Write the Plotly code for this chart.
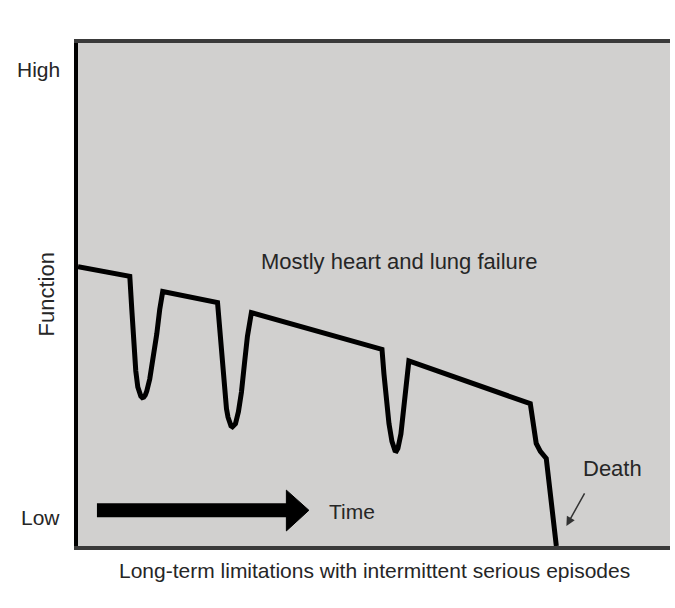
import plotly.graph_objects as go

# Functional decline trajectory (time 0-100, function 0-100)
time = [0, 8.75,
        9.09, 9.43, 9.76, 10.10, 10.35, 10.61, 10.86, 11.11, 11.37, 11.62, 12.12, 12.63, 13.30, 13.80, 14.31,
        23.57,
        23.91, 24.24, 24.58, 25.08, 25.34, 25.59, 25.84, 26.09, 26.35, 26.60, 27.10, 27.61, 28.11, 28.62, 29.29,
        51.35,
        51.68, 52.02, 52.53, 53.03, 53.28, 53.54, 53.79, 54.04, 54.55, 55.05, 55.56, 55.89,
        76.4, 76.9, 77.4, 78.1, 79.1, 80.8]
function = [55.5, 53.6,
            47.0, 40.1, 34.8, 31.6, 30.5, 29.8, 29.5, 29.6, 30.0, 30.8, 33.2, 36.6, 42.1, 47.0, 50.6,
            48.4,
            43.1, 37.2, 32.2, 27.3, 25.6, 24.5, 23.9, 23.7, 23.9, 24.3, 26.7, 30.6, 36.2, 41.7, 46.4,
            39.1,
            34.2, 29.2, 24.3, 20.8, 19.6, 19.0, 18.9, 19.4, 22.3, 27.3, 32.2, 36.8,
            28.3, 23.3, 20.4, 18.8, 17.4, 0]

# "Time" arrow: shaft and head
arrow_x = [3.2, 35.5]
arrow_y = [7.1, 7.1]
head_x = [35.2, 39.0, 35.2, 35.2]
head_y = [11.1, 7.1, 3.0, 11.1]

fig = go.Figure()

fig.add_trace(go.Scatter(x=arrow_x, y=arrow_y, mode="lines",
                         line=dict(color="black", width=14),
                         hoverinfo="skip"))
fig.add_trace(go.Scatter(x=head_x, y=head_y, mode="lines", fill="toself",
                         fillcolor="black", line=dict(color="black", width=1),
                         hoverinfo="skip"))
fig.add_trace(go.Scatter(x=time, y=function, mode="lines",
                         line=dict(color="black", width=5),
                         hoverinfo="skip"))

txt = dict(family="Liberation Sans, Arial, sans-serif", color="#262626")

fig.add_annotation(x=54.2, y=56.6, text="Mostly heart and lung failure",
                   showarrow=False, font=dict(size=22, **txt))
fig.add_annotation(x=46.2, y=6.9, text="Time", showarrow=False,
                   font=dict(size=21, **txt))
fig.add_annotation(x=90.3, y=15.4, text="Death", showarrow=False,
                   font=dict(size=22, **txt))
fig.add_annotation(x=82.5, y=4.0, ax=19, ay=-34, text="", showarrow=True,
                   arrowhead=2, arrowsize=1.2, arrowwidth=1.5,
                   arrowcolor="#333")

fig.add_annotation(xref="paper", yref="paper", x=-0.027, y=0.975, text="High",
                   showarrow=False, xanchor="right", font=dict(size=21, **txt))
fig.add_annotation(xref="paper", yref="paper", x=-0.027, y=0.03, text="Low",
                   showarrow=False, xanchor="right", font=dict(size=21, **txt))
fig.add_annotation(xref="paper", yref="paper", x=-0.077, y=0.5, text="Function",
                   textangle=-90, showarrow=False, font=dict(size=22, **txt))
fig.add_annotation(xref="paper", yref="paper", x=0.5, y=-0.075,
                   text="Long-term limitations with intermittent serious episodes",
                   showarrow=False, font=dict(size=21, **txt))

fig.update_layout(
    width=675, height=608,
    margin=dict(l=78, r=5, t=43, b=62),
    paper_bgcolor="white",
    plot_bgcolor="#d1d0cf",
    showlegend=False,
    xaxis=dict(range=[0, 100], showgrid=False, zeroline=False,
               showticklabels=False, ticks="", showline=True,
               linecolor="#3a3a3a", linewidth=4, mirror=True),
    yaxis=dict(range=[0, 100], showgrid=False, zeroline=False,
               showticklabels=False, ticks="", showline=True,
               linecolor="black", linewidth=4),
)

fig.write_html("out.html", config={"displayModeBar": False},
               post_script="document.body.style.margin='0';")
